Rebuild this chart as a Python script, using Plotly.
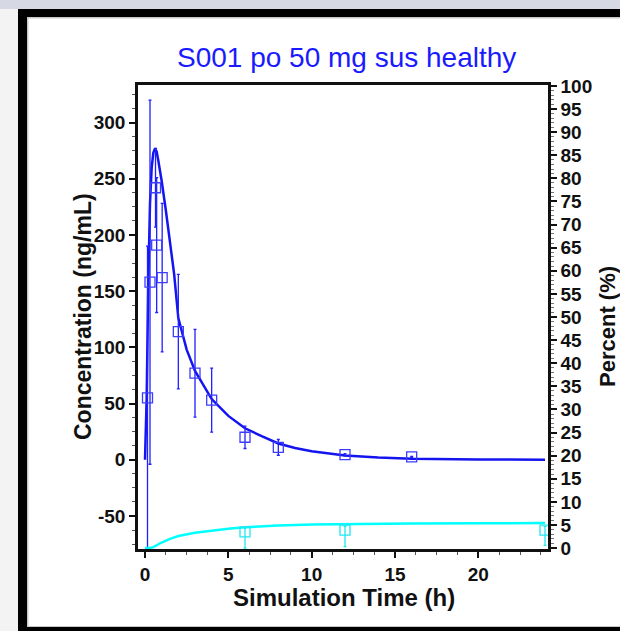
import plotly.graph_objects as go

# ---- data -----------------------------------------------------------------
# simulated plasma concentration (ng/mL)
sim_time = [0, 0.1, 0.2, 0.3, 0.4, 0.5, 0.6, 0.7, 0.8, 0.9, 1.0, 1.25, 1.5,
            1.75, 2.0, 2.5, 3.0, 3.5, 4.0, 5.0, 6.0, 7.0, 8.0, 9.0, 10.0,
            12.0, 14.0, 16.0, 18.0, 20.0, 24.0]
sim_conc = [0, 55, 160, 228, 260, 273, 277, 274, 266, 258, 248, 222, 193,
            165, 126, 98, 79, 66, 54, 39, 28, 21, 14.5, 10.5, 7.5,
            3.8, 2.0, 1.0, 0.5, 0.3, 0.1]

# simulated cumulative percent (%)
pct_time = [0, 0.25, 0.5, 0.75, 1.0, 1.5, 2.0, 3.0, 4.0, 5.0, 6.0, 7.0, 8.0,
            10.0, 12.0, 16.0, 20.0, 24.0]
pct_val = [0, 0, 0.2, 0.7, 1.2, 2.0, 2.6, 3.3, 3.8, 4.2, 4.5, 4.7, 4.9,
           5.1, 5.2, 5.3, 5.35, 5.4]

# observed concentration, mean and SD
obs_time = [0.15, 0.3, 0.63, 0.7, 1.03, 2, 3, 4, 6, 8, 12, 16]
obs_conc = [55, 158, 242, 191, 162, 114, 77, 53, 20, 11, 4.5, 2.5]
obs_sd = [135, 162, 35, 60, 66, 51, 39, 28.5, 10, 7, 1.0, 0.5]

# observed percent, mean and errors
obs_pct_time = [6, 12, 24]
obs_pct = [3.5, 3.9, 3.9]
obs_pct_lo = [3.5, 3.6, 3.3]
obs_pct_hi = [0.8, 0.8, 0.8]

x_ticks = [0, 5, 10, 15, 20]
y_ticks = [-50, 0, 50, 100, 150, 200, 250, 300]
y_labels = ["-50", "0", "50", "100", "150", "200", "250", "300"]
y2_ticks = list(range(0, 101, 5))

# ---- layout geometry (pixels) ---------------------------------------------
W, H = 620, 631
L, R, T, B = 138, 548, 85, 549
pw, ph = R - L, B - T


def px(x):
    return (x - L) / pw


def py(y):
    return (B - y) / ph


BLUE = "#1414f0"
CYAN = "#00ffff"
FONT = "Liberation Sans, Arial, sans-serif"
INK = "#111111"

fig = go.Figure()

fig.add_trace(go.Scatter(
    x=sim_time, y=sim_conc, mode="lines",
    line=dict(color=BLUE, width=2.5), showlegend=False))

fig.add_trace(go.Scatter(
    x=obs_time, y=obs_conc, mode="markers",
    marker=dict(symbol="square-open", size=10, color="#3c3cff",
                line=dict(width=1.3, color="#3c3cff")),
    error_y=dict(type="data", array=obs_sd, color="#2020ff",
                 thickness=1.3, width=1.5),
    showlegend=False))

fig.add_trace(go.Scatter(
    x=pct_time, y=pct_val, mode="lines", yaxis="y2",
    line=dict(color=CYAN, width=2.5), showlegend=False))

fig.add_trace(go.Scatter(
    x=obs_pct_time, y=obs_pct, mode="markers", yaxis="y2",
    marker=dict(symbol="square-open", size=10, color="#20e8f0",
                line=dict(width=1.3, color="#20e8f0")),
    error_y=dict(type="data", symmetric=False, array=obs_pct_hi,
                 arrayminus=obs_pct_lo, color="#20e8f0",
                 thickness=1.3, width=1.5),
    showlegend=False))

# page background and black frame
shapes = [
    dict(type="rect", xref="paper", yref="paper",
         x0=px(0), x1=px(W), y0=py(0), y1=py(9),
         fillcolor="#d6d9e4", line=dict(width=0), layer="below"),
    dict(type="rect", xref="paper", yref="paper",
         x0=px(18), x1=px(W + 5), y0=py(9), y1=py(H + 5),
         fillcolor="#000000", line=dict(width=0), layer="below"),
    dict(type="rect", xref="paper", yref="paper",
         x0=px(27), x1=px(W + 5), y0=py(17), y1=py(627),
         fillcolor="#c8c8c8", line=dict(width=0), layer="below"),
    dict(type="rect", xref="paper", yref="paper",
         x0=px(28.5), x1=px(W + 5), y0=py(18.5), y1=py(626),
         fillcolor="#ffffff", line=dict(width=0), layer="below"),
]

title_font = dict(family=FONT, size=23, color=INK, weight="bold")
annotations = [
    dict(text="Concentration (ng/mL)", xref="paper", yref="paper",
         x=px(83), y=py(317), textangle=-90, showarrow=False,
         font=title_font, xanchor="center", yanchor="middle"),
    dict(text="Percent (%)", xref="paper", yref="paper",
         x=px(607), y=py(327), textangle=-90, showarrow=False,
         font=dict(family=FONT, size=22, color=INK, weight="bold"),
         xanchor="center", yanchor="middle"),
    dict(text="Simulation Time (h)", xref="paper", yref="paper",
         x=px(344), y=py(597), showarrow=False,
         font=dict(family=FONT, size=24, color=INK, weight="bold"),
         xanchor="center", yanchor="middle"),
    dict(text="S001 po 50 mg sus healthy", xref="paper", yref="paper",
         x=px(346), y=py(57), showarrow=False,
         font=dict(family=FONT, size=28, color="#1a1aff"),
         xanchor="center", yanchor="middle"),
]

tick_font = dict(family=FONT, size=19, color=INK, weight="bold")

fig.update_layout(
    width=W, height=H,
    margin=dict(l=L, r=W - R, t=T, b=H - B, pad=0),
    paper_bgcolor="#f3f3f4", plot_bgcolor="#ffffff",
    shapes=shapes, annotations=annotations,
    xaxis=dict(range=[-0.42, 24.18], tickvals=x_ticks,
               ticks="outside", ticklen=6, tickwidth=2, tickcolor=INK,
               minor=dict(dtick=1.25, tick0=0, ticks="outside", ticklen=3,
                          tickwidth=1, tickcolor="#555555"),
               showline=True, linewidth=2.5, linecolor=INK, mirror=True,
               showgrid=False, zeroline=False, tickfont=tick_font),
    yaxis=dict(range=[-79.4, 333.4], tickvals=y_ticks, ticktext=y_labels,
               ticks="outside", ticklen=6, tickwidth=2, tickcolor=INK,
               minor=dict(dtick=12.5, tick0=0, ticks="outside", ticklen=3,
                          tickwidth=1, tickcolor="#555555"),
               showline=True, linewidth=2.5, linecolor=INK, mirror=True,
               showgrid=False, zeroline=False, tickfont=tick_font),
    yaxis2=dict(range=[-0.2, 100.2], tickvals=y2_ticks, overlaying="y",
                side="right", anchor="x",
                ticks="outside", ticklen=6, tickwidth=2, tickcolor=INK,
                minor=dict(dtick=1, tick0=0, ticks="outside", ticklen=3,
                           tickwidth=1, tickcolor="#777777"),
                showline=True, linewidth=2.5, linecolor=INK,
                showgrid=False, zeroline=False, tickfont=tick_font),
)

fig.write_html("out.html")
